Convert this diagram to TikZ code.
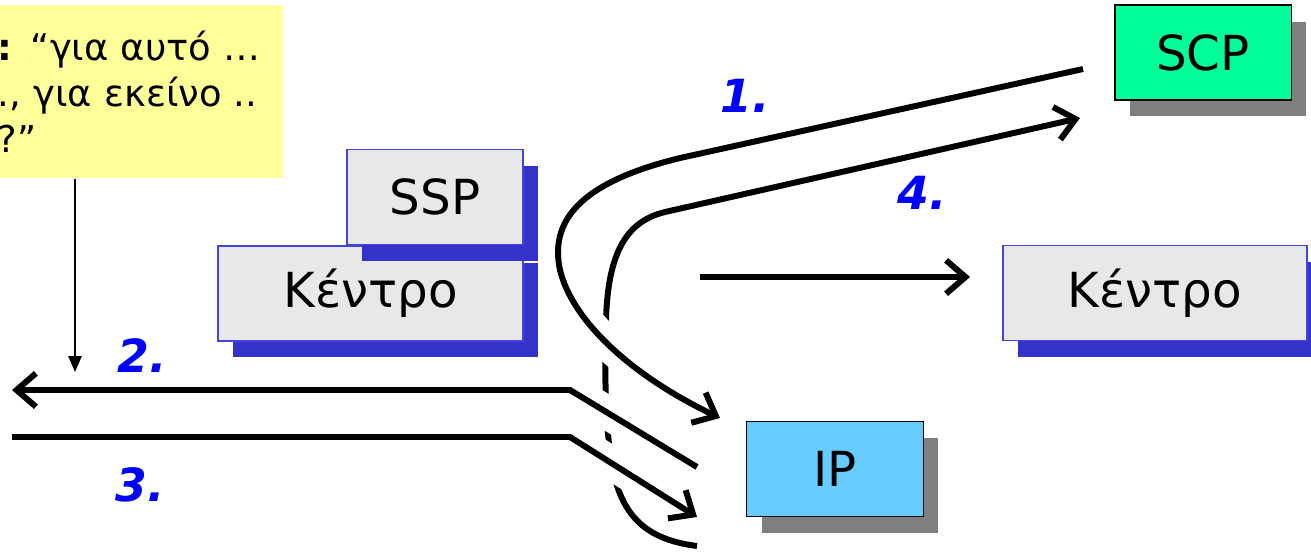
\documentclass[tikz,border=0pt]{standalone}
\usepackage{fontspec}
\setmainfont{DejaVu Sans}
\usetikzlibrary{arrows.meta,shadows,positioning}
\definecolor{notey}{HTML}{FFFF99}
\definecolor{scpg}{HTML}{00FF99}
\definecolor{ipb}{HTML}{66CCFF}
\definecolor{boxg}{HTML}{E8E8E8}
\definecolor{rimb}{HTML}{4444DD}
\definecolor{shadb}{HTML}{3333CC}
\definecolor{shadg}{HTML}{808080}
\definecolor{stepb}{HTML}{0000FF}
\newcommand{\boxfont}{\fontsize{27.5}{32}\selectfont}
\newcommand{\notefont}{\fontsize{21}{26}\selectfont}
\newcommand{\stepfont}{\fontsize{26}{30}\selectfont\bfseries\itshape}
\newcommand{\flowwd}{3.4pt}

\tikzset{
    centre/.style={draw=rimb, line width=0.9pt, fill=boxg, inner sep=0pt, font=\boxfont,
        minimum height=1.9cm,
        drop shadow={shadow xshift=0.3cm, shadow yshift=-0.33cm, fill=shadb, opacity=1}},
    unit/.style={draw=black, line width=1.1pt, inner sep=0pt, font=\boxfont,
        minimum width=3.54cm, minimum height=1.9cm,
        drop shadow={shadow xshift=0.3cm, shadow yshift=-0.33cm, fill=shadg, opacity=1}},
    note/.style={fill=notey, anchor=north east, inner sep=0pt, text width=5.7cm,
        minimum height=3.46cm, align=left, font=\notefont},
    msg/.style={line width=\flowwd, -{Straight Barb[length=11pt,width=19pt]}},
    gap/.style={preaction={draw=white, line width=19pt, arrows=-}},
    hint/.style={line width=1.1pt, -{Triangle[length=9pt,width=7.5pt]}},
    steplbl/.style={text=stepb, font=\stepfont, inner sep=0pt}
}

\begin{document}
\begin{tikzpicture}[x=0.02cm, y=-0.02cm]
            %\draw[help lines] (0,0) grid[step=50] (1311,552);
            \useasboundingbox (0,0) rectangle (1311,552);
            \coordinate (s1) at (1083,69);  \coordinate (t1) at (720,418);
            \coordinate (s2) at (697,467);  \coordinate (t2) at (12,390);
            \coordinate (s3) at (12,437);   \coordinate (t3) at (697,517);
            \coordinate (s4) at (697,546);  \coordinate (t4) at (1080,118);
            \coordinate (s5) at (700,277);  \coordinate (t5) at (970,277);
            \coordinate (t6) at (75,372);

            \node[note] (note) at (283,5) {\textbf{:} “για αυτό …\\., για εκείνο ..\\?”};
            \draw[hint] (note.south -| t6) -- (t6);

            % 4 goes under 1, 2 and 3
            \draw[msg] (s4) .. controls (650,540) and (625,520) .. (614,475)
                .. controls (606,440) and (604,380) .. (606,320)
                .. controls (608,250) and (628,221) .. (665,212) -- (t4);
            \draw[msg,gap] (s1) -- (680,158) .. controls (590,180) and (548,215) .. (560,270)
                .. controls (572,320) and (630,375) .. (t1);
            \draw[msg,gap] (s2) -- (570,390) -- (t2);
            \draw[msg,gap] (s3) -- (570,437) -- (t3);
            \draw[msg] (s5) -- (t5);

            \node[unit, fill=scpg] (scp) at (1203,52.5) {SCP};
            \node[unit, fill=ipb] (ip) at (835,469) {IP};
            \node[centre, minimum width=6.1cm] (kentro) at (370.5,293.5) {Κέντρο};
            \node[centre, minimum width=3.52cm, above left=0pt of kentro.north east] (ssp) {SSP};
            \node[centre, minimum width=6.08cm] (kentro2) at (1155,293) {Κέντρο};

            \node[steplbl] (n1) at (745,96) {1.};
            \node[steplbl] (n2) at (142,356) {2.};
            \node[steplbl] (n3) at (140,485) {3.};
            \node[steplbl] (n4) at (922,193) {4.};
    \end{tikzpicture}
\end{document}
